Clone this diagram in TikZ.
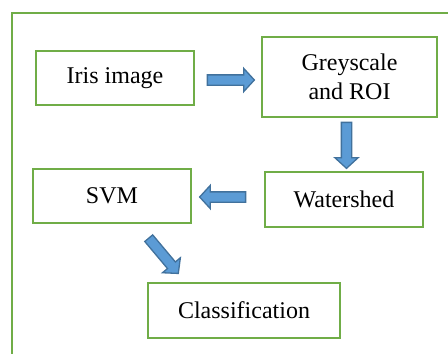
\documentclass[tikz,border=0pt]{standalone}
\usepackage{fontspec}
\setmainfont{Liberation Serif}
\usetikzlibrary{shapes.arrows}
\definecolor{boxgreen}{HTML}{70AD47}
\definecolor{arrowfill}{HTML}{5B9BD5}
\definecolor{arrowdraw}{HTML}{41719C}
\begin{document}
\begin{tikzpicture}[x=1pt,y=-1pt,
  procbox/.style={draw=boxgreen, line width=2.8pt, fill=white, inner sep=0pt,
    font=\fontsize{24}{29}\selectfont, align=center},
  blockarrow/.style={single arrow, draw=arrowdraw, fill=arrowfill, line width=1.3pt,
    inner xsep=0pt, inner ysep=4.5pt, single arrow head extend=6.5pt,
    single arrow tip angle=95, anchor=center}]
\useasboundingbox (0,0) rectangle (448,354);
\draw[boxgreen, line width=2pt] (12,354) -- (12,13) -- (448,13);
\node[procbox, minimum width=158pt, minimum height=54pt] (iris) at (115,78) {Iris image};
\node[procbox, minimum width=175pt, minimum height=80pt] (grey) at (349.5,77) {Greyscale\\and ROI};
\node[procbox, minimum width=158pt, minimum height=55pt] (water) at (344,199.5) {Watershed};
\node[procbox, minimum width=158pt, minimum height=54pt] (svm) at (112,196) {SVM};
\node[procbox, minimum width=192pt, minimum height=55pt] (cls) at (244,310.5) {Classification};
\node[blockarrow, minimum height=47pt] (a1) at (228.5,80) {};
\node[blockarrow, minimum height=46pt, rotate=-90] (a2) at (346.5,143) {};
\node[blockarrow, minimum height=46pt, rotate=180] (a3) at (225,197) {};
\node[blockarrow, minimum height=46pt, rotate=-50] (a4) at (162,254) {};
\end{tikzpicture}
\end{document}
